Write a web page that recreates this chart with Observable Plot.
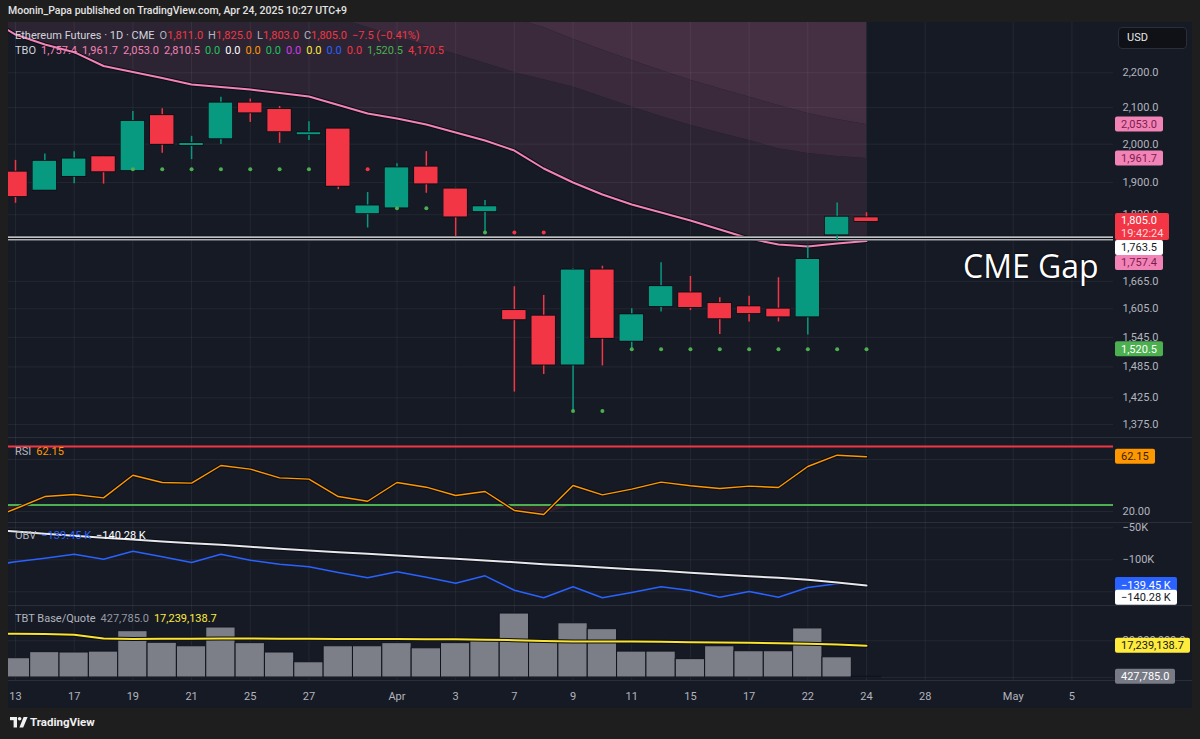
<!DOCTYPE html>
<html>
<head>
<meta charset="utf-8">
<script src="https://cdn.jsdelivr.net/npm/d3@7"></script>
<script src="https://cdn.jsdelivr.net/npm/@observablehq/plot@0.6"></script>
<style>
  html,body{margin:0;padding:0;}
  body{background:#1e1e1e;width:1200px;height:739px;overflow:hidden;position:relative;font-family:Roboto,"Liberation Sans",sans-serif;}
  #topline{position:absolute;left:8px;top:4px;font-size:10.5px;line-height:14px;color:#e3e3e3;font-weight:500;}
  #frame{position:absolute;left:8px;top:22px;width:1184px;height:686px;background:#161a25;overflow:hidden;}
  .sep{position:absolute;left:0;width:1184px;height:1px;background:#2a2e39;}
  .leg{position:absolute;left:7px;font-size:11px;line-height:14px;white-space:nowrap;color:#b2b5be;}
  .leg span{margin-right:5px;}
  #usd{position:absolute;left:1110px;top:5px;width:67px;height:20px;background:#0f1117;border:1px solid #2a2e39;border-radius:4px;color:#e8e8e8;font-size:11px;line-height:20px;box-sizing:content-box;padding-left:0;}
  #usd span{margin-left:8px;}
  #gap{position:absolute;left:955px;top:228px;font-family:"Open Sans",sans-serif;font-size:32px;line-height:32px;color:#ffffff;text-shadow:0 0 2px #000,0 0 1px #000;white-space:nowrap;}
  #footer{position:absolute;left:10px;top:715px;height:14px;display:flex;align-items:center;color:#f0f0f0;font-size:11.5px;font-weight:700;}
</style>
</head>
<body>
<div id="topline">Moonin_Papa published on TradingView.com, Apr 24, 2025 10:27 UTC+9</div>
<div id="frame"></div>
<div id="footer"><svg width="18" height="11" viewBox="0 0 18 11"><rect x="0" y="0" width="7" height="3.2" fill="#f0f0f0"/><rect x="3.6" y="0" width="3.4" height="10.5" fill="#f0f0f0"/><circle cx="9.6" cy="1.8" r="1.8" fill="#f0f0f0"/><polygon points="13.6,0 17.6,0 13.2,10.5 9.4,10.5" fill="#f0f0f0"/></svg><span style="margin-left:2px">TradingView</span></div>
<script>
// ---------------- DATA ----------------
const dates = ["2025-03-12","2025-03-13","2025-03-14","2025-03-17","2025-03-18","2025-03-19","2025-03-20","2025-03-21","2025-03-24","2025-03-25","2025-03-26","2025-03-27","2025-03-28","2025-03-31","2025-04-01","2025-04-02","2025-04-03","2025-04-04","2025-04-07","2025-04-08","2025-04-09","2025-04-10","2025-04-11","2025-04-14","2025-04-15","2025-04-16","2025-04-17","2025-04-21","2025-04-22","2025-04-23","2025-04-24"];
const futureSessions = ["2025-04-25","2025-04-28","2025-04-29","2025-04-30","2025-05-01","2025-05-02","2025-05-05"];

const open  = [1880, 1925, 1882, 1917, 1965, 1932, 2076, 1998, 2016, 2111, 2093, 2027, 2039, 1824, 1838, 1938, 1882, 1829, 1600, 1588, 1490, 1689, 1538, 1611, 1638, 1615, 1608, 1603, 1589, 1773, 1811];
const high  = [1935, 1957, 1974, 1980, 1968, 2089, 2097, 2021, 2129, 2124, 2103, 2061, 2041, 1875, 1948, 1980, 1886, 1855, 1653, 1634, 1694, 1699, 1605, 1707, 1676, 1629, 1632, 1673, 1745, 1849, 1825];
const low   = [1860, 1848, 1880, 1897, 1896, 1930, 1976, 1959, 1999, 2059, 2002, 2010, 1882, 1788, 1836, 1873, 1768, 1777, 1436, 1470, 1401, 1487, 1522, 1598, 1601, 1551, 1577, 1577, 1550, 1757, 1803];
const close = [1925, 1866, 1953, 1959, 1929, 2060, 2001, 2000, 2111, 2087, 2035, 2029, 1892, 1840, 1936, 1898, 1816, 1838, 1583, 1490, 1689, 1544, 1591, 1652, 1609, 1585, 1596, 1589, 1713, 1812.5, 1805];

// TBO lines
const tboFast = [2368.8, 2315.5, 2284.8, 2261.4, 2220.1, 2202.4, 2184.8, 2165.9, 2158.6, 2151.4, 2141.4, 2131.4, 2107.3, 2083.5, 2069.7, 2053.1, 2031.3, 2009.7, 1983.0, 1935.9, 1900.0, 1869.8, 1845.0, 1825.3, 1805.9, 1784.4, 1763.0, 1748.9, 1744.3, 1751.3, 1757.4];
const tboMid  = [2610, 2590, 2570, 2550, 2530, 2510, 2490, 2470, 2452, 2435, 2418, 2400, 2366, 2337, 2309, 2282, 2255, 2228, 2201, 2180, 2159, 2130, 2102, 2075, 2051, 2030, 2010, 1988, 1975, 1967, 1961.7];
const tboSlow = [2780, 2760, 2740, 2715, 2690, 2665, 2640, 2615, 2590, 2565, 2540, 2515, 2490, 2465, 2440, 2418, 2396, 2380, 2365, 2337, 2301, 2268, 2236.5, 2207, 2178, 2154, 2130, 2106, 2083.5, 2067, 2053.0];
const tboTop = 2810.5;
const stopLevel = [null, null, null, null, null, 1934, 1934, 1934, 1934, 1934, 1934, 1934, 1934, 1934, 1836, 1836, 1836, 1777, 1777, 1777, 1400, 1400, 1520.5, 1520.5, 1520.5, 1520.5, 1520.5, 1520.5, 1520.5, 1520.5, 1520.5];
const stopSide  = ["", "", "", "", "", "L","L","L","L","L","L","L","S","S","L","L","S","L","S","S","L","L","L","L","L","L","L","L","L","L","L"];
const gapLevel = 1763.5;

// RSI
const rsi = [13, 22.1, 31.5, 33.1, 30.5, 47.9, 42.3, 41.8, 55.4, 52.6, 45.9, 44.9, 31.5, 27.9, 42.3, 38.7, 32.3, 35.4, 20.8, 17.7, 40.0, 32.8, 37.2, 42.6, 39.8, 37.7, 39.5, 38.5, 54.6, 63.3, 62.15];
const rsiUpper = 70, rsiLower = 25;

// OBV (thousands)
const obv   = [-109.7, -103.1, -97.5, -91.3, -99.1, -86.6, -95.3, -104.2, -91.3, -100.6, -106.9, -110.9, -119.8, -128.1, -118.8, -127.2, -136.6, -125.0, -147.5, -159.4, -142.2, -159.4, -151.1, -142.2, -148.0, -158.4, -149.5, -158.4, -143.3, -137.5, -139.45];
const obvMA = [-52.7, -55.8, -59.4, -62.5, -65.6, -68.3, -71.4, -74.1, -76.6, -79.7, -82.8, -85.5, -88.1, -90.6, -93.3, -95.9, -98.4, -101.1, -103.8, -106.9, -109.4, -112.0, -114.7, -117.2, -120.3, -123.0, -125.6, -128.1, -131.3, -135.4, -140.28];

// Volume (TBT Base/Quote)
const volume   = [15.0e6, 10.5e6, 13.8e6, 13.6e6, 14.1e6, 25.2e6, 18.9e6, 17.0e6, 27.2e6, 18.7e6, 13.6e6, 8.3e6, 17.0e6, 17.0e6, 18.7e6, 15.9e6, 18.7e6, 21.1e6, 34.8e6, 20.8e6, 29.5e6, 26.3e6, 14.1e6, 14.1e6, 10.0e6, 17.0e6, 14.3e6, 14.3e6, 26.7e6, 11.0e6, 427785.0];
const volumeMA = [24.0e6, 23.8e6, 23.6e6, 23.2e6, 21.2e6, 21.0e6, 21.1e6, 21.1e6, 21.2e6, 21.2e6, 21.1e6, 21.1e6, 21.0e6, 21.0e6, 21.0e6, 20.8e6, 20.8e6, 20.6e6, 20.3e6, 19.8e6, 19.6e6, 19.6e6, 19.6e6, 19.4e6, 19.2e6, 19.0e6, 18.9e6, 18.7e6, 18.3e6, 17.9e6, 17239138.7];

// Axis ticks
const tickDates  = ["2025-03-13","2025-03-17","2025-03-19","2025-03-21","2025-03-25","2025-03-27","2025-04-01","2025-04-03","2025-04-07","2025-04-09","2025-04-11","2025-04-15","2025-04-17","2025-04-22","2025-04-24","2025-04-28","2025-05-01","2025-05-05"];
const tickLabels = ["13","17","19","21","25","27","Apr","3","7","9","11","15","17","22","24","28","May","5"];
const priceTicks = [2200, 2100, 2000, 1900, 1820, 1665, 1605, 1545, 1485, 1425, 1375];
const rsiTicks = [20, 60];
const obvTicks = [-50, -100, -150];
const volTicks = [0, 20e6];

// Legend texts
const header1 = [["Ethereum Futures · 1D · CME", "#d1d4dc"]];
const ohlcLegend = [["O","1,811.0"],["H","1,825.0"],["L","1,803.0"],["C","1,805.0"]];
const changeText = "−7.5 (−0.41%)";
const tboLegend = [["1,757.4","#f283b6"],["1,961.7","#f283b6"],["2,053.0","#f283b6"],["2,810.5","#f283b6"],["0.0","#1fc25e"],["0.0","#ffffff"],["0.0","#ff9800"],["0.0","#1fc25e"],["0.0","#d13ee6"],["0.0","#ffeb3b"],["0.0","#2962ff"],["0.0","#f23645"],["1,520.5","#4caf50"],["4,170.5","#f23645"]];
const countdown = "19:42:24";

// ---------------- BUILD ----------------
const sessions = dates.concat(futureSessions);
const idx = d => sessions.indexOf(d) - 1;
const rows = dates.map((d, k) => ({
  i: idx(d), open: open[k], high: high[k], low: low[k], close: close[k],
  fast: tboFast[k], mid: tboMid[k], slow: tboSlow[k], stop: stopLevel[k], side: stopSide[k],
  rsi: rsi[k], obv: obv[k], obvMA: obvMA[k], vol: volume[k], volMA: volumeMA[k]
}));
const ticks = tickDates.map((d, k) => ({i: idx(d), label: tickLabels[k]}));
const last = rows[rows.length - 1];

const frame = document.getElementById("frame");
const W = 1184, MR = 79, FR = W - MR;
const xDomain = [-0.2385, 37.417];
const font = "Roboto, 'Liberation Sans', sans-serif";
const style = {background: "transparent", color: "#b2b5be", fontSize: "11px", fontFamily: font, overflow: "visible"};
const halo = "#0b0d13";
const cUp = "#089981", cDn = "#f23645", pink = "#f283b6";
const candleColor = d => d.close >= d.open ? cUp : cDn;
const gridColor = {stroke: "#ffffff", strokeOpacity: 0.06};

function pane(top, height, yOpt, marks) {
  const chart = Plot.plot({
    width: W, height, marginLeft: 0, marginRight: MR, marginTop: 0, marginBottom: 0,
    x: {type: "linear", domain: xDomain, axis: null},
    y: Object.assign({axis: null}, yOpt),
    style, marks
  });
  chart.style.position = "absolute";
  chart.style.left = "0px";
  chart.style.top = top + "px";
  chart.style.overflow = "visible";
  frame.appendChild(chart);
  return chart;
}

function yFn(chart) {
  const s = chart.scale("y");
  if (s && typeof s.apply === "function") return v => s.apply(v);
  const sc = (s.type === "log" ? d3.scaleLog() : d3.scaleLinear()).domain(s.domain).range(s.range);
  return v => sc(v);
}

function addLabels(chart, labels) {
  const fy = yFn(chart);
  const g = d3.select(chart).append("g").attr("font-size", 11).attr("font-family", font).attr("text-anchor", "start");
  for (const L of labels) {
    const yc = fy(L.value) + (L.shift || 0);
    const lh = 13;
    const h = L.lines.length === 1 ? 15 : L.lines.length * lh + 1;
    const x0 = FR + 2;
    const rect = g.append("rect").attr("x", x0).attr("y", yc - 7.5).attr("height", h).attr("rx", 2).attr("fill", L.bg);
    let maxW = 0;
    L.lines.forEach((t, k) => {
      const fg = Array.isArray(L.fg) ? L.fg[k] : L.fg;
      const tx = g.append("text").attr("x", x0 + 6).attr("y", yc + k * lh).attr("dy", "0.36em").attr("fill", fg).attr("text-anchor", "start").text(t);
      maxW = Math.max(maxW, tx.node().getComputedTextLength());
    });
    rect.attr("width", Math.round(maxW + 12));
  }
}

const f1 = d3.format(",.1f");

// ---- Main price pane ----
const main = pane(0, 415, {type: "log", domain: [1351.4, 2353.0]}, [
  Plot.areaY(rows, {x: "i", y1: "fast", y2: "mid", fill: "#2d2433", clip: true}),
  Plot.areaY(rows, {x: "i", y1: "mid", y2: "slow", fill: "#3a2a3b", clip: true}),
  Plot.areaY(rows, {x: "i", y1: "slow", y2: () => tboTop, fill: "#452f42", clip: true}),
  Plot.gridY(priceTicks, gridColor),
  Plot.gridX(ticks, {x: "i", ...gridColor}),
  Plot.line(rows, {x: "i", y: "fast", stroke: halo, strokeWidth: 4, clip: true}),
  Plot.line(rows, {x: "i", y: "fast", stroke: pink, strokeWidth: 2, clip: true}),
  Plot.ruleY([gapLevel], {stroke: halo, strokeWidth: 5}),
  Plot.ruleY([gapLevel], {stroke: "#ffffff", strokeWidth: 1.4, dy: -1.2}),
  Plot.ruleY([gapLevel], {stroke: "#a9acb3", strokeWidth: 1.4, dy: 1.4}),
  Plot.ruleX(rows, {x: "i", y1: "low", y2: "high", stroke: candleColor, strokeWidth: 1.5, clip: true}),
  Plot.rect(rows, {x1: d => d.i - 0.42, x2: d => d.i + 0.42, y1: "open", y2: "close", fill: halo, insetTop: -1.5, insetBottom: -1.5, clip: true}),
  Plot.rect(rows, {x1: d => d.i - 0.4, x2: d => d.i + 0.4, y1: "open", y2: "close", fill: candleColor, insetTop: -0.6, insetBottom: -0.6, clip: true}),
  Plot.dot(rows.filter(d => d.stop != null), {x: "i", y: "stop", r: 2, fill: d => d.side === "L" ? "#4caf50" : "#f23645", clip: true}),
  Plot.axisY(priceTicks, {anchor: "right", tickSize: 0, tickPadding: 9, tickFormat: f1, label: null})
]);
addLabels(main, [
  {value: last.slow, lines: [f1(last.slow)], bg: pink, fg: "#7d1d4e"},
  {value: last.mid, lines: [f1(last.mid)], bg: pink, fg: "#7d1d4e"},
  {value: last.close, lines: [f1(last.close), countdown], bg: "#f23645", fg: ["#ffffff", "#ffd9dd"]},
  {value: gapLevel, lines: [f1(gapLevel)], bg: "#ffffff", fg: "#131722", shift: 9.7},
  {value: last.fast, lines: [f1(last.fast)], bg: pink, fg: "#7d1d4e", shift: 22},
  {value: last.stop, lines: [f1(last.stop)], bg: "#4caf50", fg: "#ffffff"}
]);

// ---- RSI pane ----
const rsiPane = pane(415, 85, {type: "linear", domain: [11.54, 76.92]}, [
  Plot.gridY(rsiTicks, gridColor),
  Plot.gridX(ticks, {x: "i", ...gridColor}),
  Plot.areaY(rows, {x: "i", y1: d => Math.min(d.rsi, rsiLower), y2: () => rsiLower, fill: "#f23645", fillOpacity: 0.14, clip: true}),
  Plot.ruleY([rsiUpper], {stroke: "#f23645", strokeWidth: 2}),
  Plot.ruleY([rsiLower], {stroke: "#4caf50", strokeWidth: 2}),
  Plot.line(rows, {x: "i", y: "rsi", stroke: halo, strokeWidth: 3.5, clip: true}),
  Plot.line(rows, {x: "i", y: "rsi", stroke: "#ff9800", strokeWidth: 1.4, clip: true}),
  Plot.axisY(rsiTicks, {anchor: "right", tickSize: 0, tickPadding: 9, tickFormat: d3.format(".2f"), label: null})
]);
addLabels(rsiPane, [{value: last.rsi, lines: [d3.format(".2f")(last.rsi)], bg: "#ff9800", fg: "#3a2300"}]);

// ---- OBV pane ----
const kFmt = v => d3.format(".2f")(v) + " K";
const obvPane = pane(500, 83, {type: "linear", domain: [-171.4, -41.7]}, [
  Plot.gridY(obvTicks, gridColor),
  Plot.gridX(ticks, {x: "i", ...gridColor}),
  Plot.line(rows, {x: "i", y: "obv", stroke: "#2962ff", strokeWidth: 1.5, clip: true}),
  Plot.line(rows, {x: "i", y: "obvMA", stroke: halo, strokeWidth: 4, clip: true}),
  Plot.line(rows, {x: "i", y: "obvMA", stroke: "#e6e8ee", strokeWidth: 2, clip: true}),
  Plot.axisY(obvTicks, {anchor: "right", tickSize: 0, tickPadding: 9, tickFormat: v => d3.format("d")(v) + "K", label: null})
]);
addLabels(obvPane, [
  {value: last.obv, lines: [kFmt(last.obv)], bg: "#2962ff", fg: "#ffffff"},
  {value: last.obvMA, lines: [kFmt(last.obvMA)], bg: "#ffffff", fg: "#131722", shift: 12.2}
]);

// ---- Volume pane ----
const volPane = pane(583, 75, {type: "linear", domain: [-1.63e6, 39.17e6]}, [
  Plot.gridY(volTicks, gridColor),
  Plot.gridX(ticks, {x: "i", ...gridColor}),
  Plot.rectY(rows, {x1: d => d.i - 0.5, x2: d => d.i + 0.5, y: "vol", fill: "#7c7e88", stroke: "#10131b", strokeWidth: 1, clip: true}),
  Plot.line(rows, {x: "i", y: "volMA", stroke: halo, strokeWidth: 4, clip: true}),
  Plot.line(rows, {x: "i", y: "volMA", stroke: "#fbe42e", strokeWidth: 2, clip: true}),
  Plot.axisY(volTicks, {anchor: "right", tickSize: 0, tickPadding: 9, tickFormat: f1, label: null})
]);
addLabels(volPane, [
  {value: last.volMA, lines: [f1(last.volMA)], bg: "#ffeb3b", fg: "#131722"},
  {value: last.vol, lines: [f1(last.vol)], bg: "#787b86", fg: "#ffffff"}
]);

// ---- Time axis ----
pane(658, 28, {}, [
  Plot.text(ticks, {x: "i", text: "label", frameAnchor: "middle", dy: 2, fill: "#b2b5be"})
]);

// ---- separators ----
[415, 500, 583, 658].forEach(t => {
  const s = document.createElement("div");
  s.className = "sep"; s.style.top = t + "px";
  frame.insertBefore(s, frame.firstChild);
});

// ---- legends ----
function legend(top, parts) {
  const d = document.createElement("div");
  d.className = "leg"; d.style.top = top + "px";
  d.innerHTML = parts.map(([t, c]) => `<span style="color:${c}">${t}</span>`).join("");
  frame.appendChild(d);
}
legend(7, header1.concat(ohlcLegend.map(([k, v]) => [`<span style="color:#b2b5be;margin:0">${k}</span>${v}`, "#f23645"]), [[changeText, "#f23645"]]));
legend(22, [["TBO", "#d1d4dc"]].concat(tboLegend));
legend(423, [["RSI", "#b2b5be"], [d3.format(".2f")(last.rsi), "#ff9800"]]);
legend(507, [["OBV", "#b2b5be"], [kFmt(last.obv), "#2962ff"], [kFmt(last.obvMA), "#ffffff"]]);
legend(590, [["TBT Base/Quote", "#b2b5be"], [f1(last.vol), "#9598a1"], [f1(last.volMA), "#ffeb3b"]]);

const usd = document.createElement("div");
usd.id = "usd"; usd.innerHTML = "<span>USD</span>";
frame.appendChild(usd);

const gap = document.createElement("div");
gap.id = "gap"; gap.textContent = "CME Gap";
frame.appendChild(gap);
</script>
</body>
</html>
